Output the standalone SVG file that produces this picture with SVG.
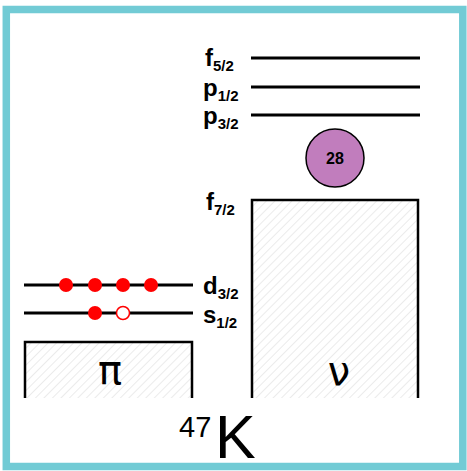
<svg xmlns="http://www.w3.org/2000/svg" width="467" height="471" viewBox="0 0 467 471">
<style>
.lvl{stroke:#000;stroke-width:3;fill:none}
.box{stroke:#000;stroke-width:2.5;fill:url(#hatch)}
.lab{font-family:"Liberation Sans",Arial,sans-serif;font-weight:bold;font-size:24px;fill:#000}
.sub{font-size:15px}
.dot{fill:#ff0000}
.hole{fill:#fff;stroke:#ff0000;stroke-width:1.5}
.big{font-family:"DejaVu Sans",sans-serif;fill:#000}
.nuc{font-family:"Liberation Sans",Arial,sans-serif;fill:#000}
</style>
<defs>
<pattern id="hatch" patternUnits="userSpaceOnUse" width="6" height="6" patternTransform="rotate(45)">
<rect width="6" height="6" fill="#fff"/>
<line x1="0" y1="0" x2="0" y2="6" stroke="#d8d8d8" stroke-width="1"/>
</pattern>
</defs>
<rect x="6.3" y="9.5" width="456.5" height="457" fill="#fff" stroke="#72CBD5" stroke-width="7.5"/>
<g id="neutron-levels">
<line class="lvl" x1="251" y1="58" x2="420" y2="58"/>
<line class="lvl" x1="251" y1="87" x2="420" y2="87"/>
<line class="lvl" x1="251" y1="115" x2="420" y2="115"/>
<text class="lab" x="205" y="66">f<tspan class="sub" dy="5">5/2</tspan></text>
<text class="lab" x="203" y="96">p<tspan class="sub" dy="5">1/2</tspan></text>
<text class="lab" x="203" y="124">p<tspan class="sub" dy="5">3/2</tspan></text>
</g>
<g id="magic-28">
<circle cx="335" cy="158" r="29" fill="#C17DBD" stroke="#000" stroke-width="1.5"/>
<text x="335" y="164" text-anchor="middle" font-family="Liberation Sans,Arial,sans-serif" font-weight="bold" font-size="16">28</text>
</g>
<g id="neutron-core">
<path class="box" d="M252,398 V200 H418 V398"/>
<text class="lab" x="206" y="210">f<tspan class="sub" dy="5">7/2</tspan></text>
<text class="big" x="339" y="385" font-size="40" text-anchor="middle">ν</text>
</g>
<g id="proton-levels">
<line class="lvl" x1="24" y1="285" x2="193" y2="285"/>
<line class="lvl" x1="24" y1="313" x2="193" y2="313"/>
<circle class="dot" cx="66" cy="285" r="7"/>
<circle class="dot" cx="95" cy="285" r="7"/>
<circle class="dot" cx="123" cy="285" r="7"/>
<circle class="dot" cx="151" cy="285" r="7"/>
<circle class="dot" cx="95" cy="313" r="7"/>
<circle class="hole" cx="123" cy="313" r="6.5"/>
<text class="lab" x="203" y="294">d<tspan class="sub" dy="5">3/2</tspan></text>
<text class="lab" x="203" y="323">s<tspan class="sub" dy="5">1/2</tspan></text>
</g>
<g id="proton-core">
<path class="box" d="M25,398 V342 H192 V398"/>
<text class="big" x="110" y="384" font-size="40" text-anchor="middle">π</text>
</g>
<g id="nucleus-label">
<text class="nuc" x="179" y="437" font-size="29">47</text>
<text class="nuc" x="215" y="458" font-size="61">K</text>
</g>
<g id="connectors"/>
</svg>
